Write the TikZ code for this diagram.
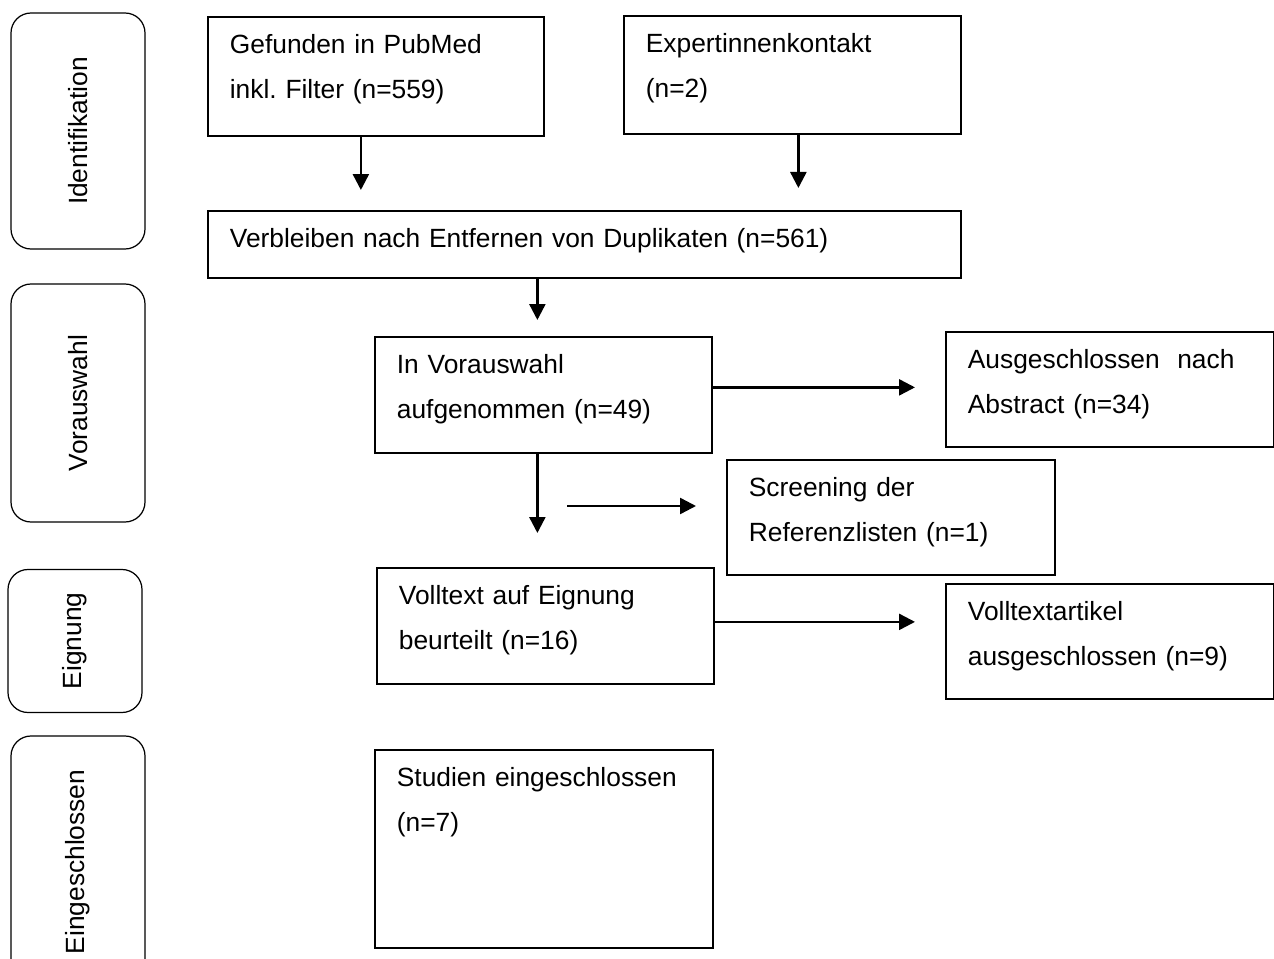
\documentclass[tikz,border=0pt]{standalone}
\usepackage{fontspec}
\setmainfont{Liberation Sans}
\usetikzlibrary{arrows.meta,positioning}
\newlength\pxu
\setlength\pxu{0.02cm}
\frenchspacing

\begin{document}
\begin{tikzpicture}[x=\pxu,y=-\pxu,
		font=\fontsize{15pt}{25.6pt}\selectfont,
		kasten/.style={draw,line width=1pt,anchor=north west,align=left,inner xsep=22\pxu,inner ysep=0pt,text height=37\pxu},
		phase/.style={draw,line width=0.7pt,rounded corners=20\pxu,rotate=90,inner sep=0pt},
		pfeil/.style={line width=1.4pt,-{Triangle[width=0.32cm,length=0.32cm]}}]
		\useasboundingbox (0,0) rectangle (1274,959);

		\node[phase,minimum width=236\pxu,minimum height=134\pxu] (identifikation) at (78,131) {Identifikation};
		\node[phase,minimum width=238\pxu,minimum height=134\pxu] (vorauswahlphase) at (78,403) {Vorauswahl};
		\node[phase,minimum width=143\pxu,minimum height=134\pxu] (eignung) at (75,641) {Eignung};
		\node[phase,minimum width=252\pxu,minimum height=134\pxu] (eingeschlossen) at (78,862) {Eingeschlossen};

		\node[kasten,text width=292\pxu,text depth=82\pxu] (gefunden) at (207,16) {Gefunden in PubMed\\inkl. Filter (n=559)};
		\node[kasten,text width=293\pxu,text depth=81\pxu] (experten) at (623,15) {Expertinnenkontakt\\(n=2)};
		\node[kasten,text width=709\pxu,text depth=30\pxu] (verbleiben) at (207,210) {Verbleiben nach Entfernen von Duplikaten (n=561)};
		\node[kasten,text width=293\pxu,text depth=79\pxu] (vorauswahl) at (374,336) {In Vorauswahl\\aufgenommen (n=49)};
		\node[kasten,text width=284\pxu,text depth=78\pxu] (abstract) at (945,331) {Ausgeschlossen\ \ nach\\Abstract (n=34)};
		\node[kasten,text width=284\pxu,text depth=78\pxu] (screening) at (726,459) {Screening der\\Referenzlisten (n=1)};
		\node[kasten,text width=293\pxu,text depth=79\pxu] (volltext) at (376,567) {Volltext auf Eignung\\beurteilt (n=16)};
		\node[kasten,text width=284\pxu,text depth=78\pxu] (artikel) at (945,583) {Volltextartikel\\ausgeschlossen (n=9)};
		\node[kasten,text width=294\pxu,text depth=161\pxu] (studien) at (374,749) {Studien eingeschlossen\\(n=7)};

		\coordinate (referenzen) at (567,506);

		\draw[pfeil,shorten >=20\pxu] ([xshift=-15\pxu]gefunden.south) -- ([xshift=-15\pxu]gefunden.south |- verbleiben.north);
		\draw[pfeil,shorten >=22\pxu] ([xshift=6\pxu]experten.south) -- ([xshift=6\pxu]experten.south |- verbleiben.north);
		\draw[pfeil,shorten >=16\pxu] ([xshift=-6\pxu]vorauswahl.north |- verbleiben.south) -- ([xshift=-6\pxu]vorauswahl.north);
		\draw[pfeil,shorten >=30\pxu] ([yshift=2\pxu]vorauswahl.east |- abstract.west) -- ([yshift=2\pxu]abstract.west);
		\draw[pfeil,shorten >=34\pxu] ([xshift=-6\pxu]vorauswahl.south) -- ([xshift=-6\pxu]vorauswahl.south |- volltext.north);
		\draw[pfeil,shorten >=30\pxu] (referenzen) -- (referenzen -| screening.west);
		\draw[pfeil,shorten >=30\pxu] ([yshift=4\pxu]volltext.east) -- ([yshift=4\pxu]volltext.east -| artikel.west);
	\end{tikzpicture}
\end{document}
